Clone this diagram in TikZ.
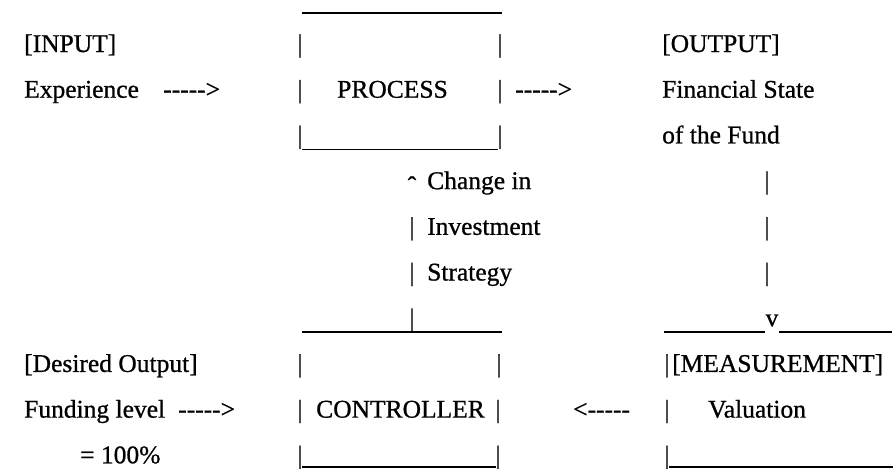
\documentclass[tikz,border=0pt]{standalone}
\usepackage{fontspec}
\setmainfont{Liberation Serif}[FakeBold=0.8]
\newcommand\fsz{\fontsize{25.5}{30}\selectfont}
\newcommand\rarr{-{}-{}-{}-{}-{}>}
\newcommand\larr{<-{}-{}-{}-{}-}
\tikzset{
  lbl/.style={anchor=base west, inner sep=0pt, font=\fsz},
  barc/.style={anchor=base, inner sep=0pt, font=\fsz},
  rule/.style={line width=1.6pt},
}
\begin{document}
\begin{tikzpicture}[x=1pt,y=-1pt]
\useasboundingbox (0,0) rectangle (894,469);
% row 0
\coordinate (t0a) at (302,13); \coordinate (t0b) at (502,13);
\draw[rule] (t0a) -- (t0b);
% row 1
\node[lbl] (input) at (24,52) {[INPUT]};
\node[barc] (p1l) at (300,52) {|};
\node[barc] (p1r) at (500,52) {|};
\node[lbl] (output) at (662,52) {[OUTPUT]};
% row 2
\node[lbl] (exp) at (24,97.7) {Experience};
\node[lbl] (a1) at (163,97.7) {\rarr};
\node[barc] (p2l) at (300,97.7) {|};
\node[lbl] (proc) at (337,97.7) {PROCESS};
\node[barc] (p2r) at (500,97.7) {|};
\node[lbl] (a2) at (515,97.7) {\rarr};
\node[lbl] (fin) at (662,97.7) {Financial State};
% row 3
\node[barc] (p3l) at (300,143.4) {|};
\node[barc] (p3r) at (500,143.4) {|};
\coordinate (t3a) at (302,149.5); \coordinate (t3b) at (498,149.5);
\draw[rule] (t3a) -- (t3b);
\node[lbl] (fund) at (662,143.4) {of the Fund};
% rows 4-6
\node[barc] (caret) at (412,194) {ˆ};
\node[lbl] (chg) at (427,189.1) {Change in};
\node[barc] (v4) at (767,189.1) {|};
\node[barc] (s5) at (412,234.8) {|};
\node[lbl] (inv) at (427,234.8) {Investment};
\node[barc] (v5) at (767,234.8) {|};
\node[barc] (s6) at (412,280.5) {|};
\node[lbl] (strat) at (427,280.5) {Strategy};
\node[barc] (v6) at (767,280.5) {|};
% row 7
\node[barc] (s7) at (412,326.2) {|};
\coordinate (t7a) at (302,332); \coordinate (t7b) at (502,332);
\draw[rule] (t7a) -- (t7b);
\node[barc] (vv) at (772,326.2) {v};
\coordinate (m7a) at (664,332); \coordinate (m7b) at (765,332);
\coordinate (m7c) at (779,332); \coordinate (m7d) at (892,332);
\draw[rule] (m7a) -- (m7b);
\draw[rule] (m7c) -- (m7d);
% row 8
\node[lbl] (des) at (24,371.9) {[Desired Output]};
\node[barc] (c8l) at (300,371.9) {|};
\node[barc] (c8r) at (499,371.9) {|};
\node[barc] (m8l) at (667,371.9) {|};
\node[lbl] (meas) at (672,371.9) {[MEASUREMENT]};
% row 9
\node[lbl] (fl) at (24,417.6) {Funding level};
\node[lbl] (a3) at (178,417.6) {\rarr};
\node[barc] (c9l) at (300,417.6) {|};
\node[lbl] (ctrl) at (316,417.6) {CONTROLLER};
\node[barc] (c9r) at (498,417.6) {|};
\node[lbl] (a4) at (573,417.6) {\larr};
\node[barc] (m9l) at (667,417.6) {|};
\node[lbl] (val) at (708,417.6) {Valuation};
% row 10
\node[lbl] (pct) at (80,463.3) {= 100\%};
\node[barc] (c10l) at (300,463.3) {|};
\node[barc] (c10r) at (498,463.3) {|};
\coordinate (t10a) at (302,467); \coordinate (t10b) at (496,467);
\draw[rule] (t10a) -- (t10b);
\node[barc] (m10l) at (667,463.3) {|};
\coordinate (b10a) at (669,467); \coordinate (b10b) at (893,467);
\draw[rule] (b10a) -- (b10b);
\end{tikzpicture}
\end{document}
